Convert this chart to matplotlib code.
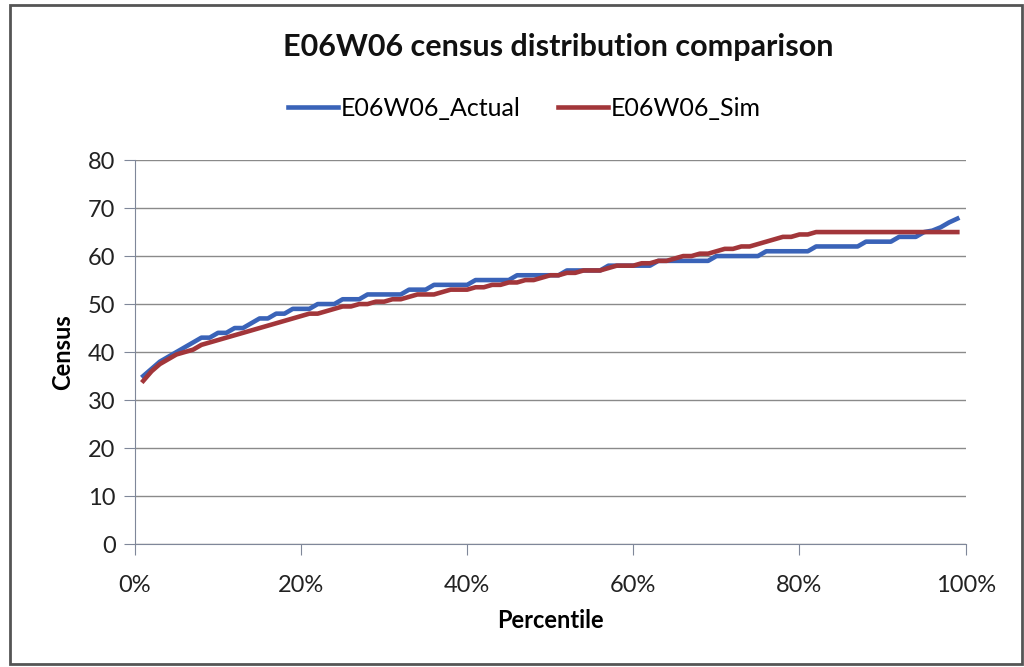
import matplotlib.pyplot as plt
from matplotlib.ticker import PercentFormatter
from matplotlib.patches import Rectangle

plt.rcParams['font.family'] = ['Lato', 'DejaVu Sans']

# percentile (%) and census values
percentile = list(range(1, 100))
actual = [35, 36.5, 38, 39, 40, 41, 42, 43, 43, 44,
          44, 45, 45, 46, 47, 47, 48, 48, 49, 49,
          49, 50, 50, 50, 51, 51, 51, 52, 52, 52,
          52, 52, 53, 53, 53, 54, 54, 54, 54, 54,
          55, 55, 55, 55, 55, 56, 56, 56, 56, 56,
          56, 57, 57, 57, 57, 57, 58, 58, 58, 58,
          58, 58, 59, 59, 59, 59, 59, 59, 59, 60,
          60, 60, 60, 60, 60, 61, 61, 61, 61, 61,
          61, 62, 62, 62, 62, 62, 62, 63, 63, 63,
          63, 64, 64, 64, 65, 65.3, 66, 67, 67.8]
sim = [34, 36, 37.5, 38.5, 39.5, 40, 40.5, 41.5, 42, 42.5,
       43, 43.5, 44, 44.5, 45, 45.5, 46, 46.5, 47, 47.5,
       48, 48, 48.5, 49, 49.5, 49.5, 50, 50, 50.5, 50.5,
       51, 51, 51.5, 52, 52, 52, 52.5, 53, 53, 53,
       53.5, 53.5, 54, 54, 54.5, 54.5, 55, 55, 55.5, 56,
       56, 56.5, 56.5, 57, 57, 57, 57.5, 58, 58, 58,
       58.5, 58.5, 59, 59, 59.5, 60, 60, 60.5, 60.5, 61,
       61.5, 61.5, 62, 62, 62.5, 63, 63.5, 64, 64, 64.5,
       64.5, 65, 65, 65, 65, 65, 65, 65, 65, 65,
       65, 65, 65, 65, 65, 65, 65, 65, 65]

fig = plt.figure(figsize=(10.24, 6.67), dpi=100)
ax = fig.add_axes([0.1318, 0.1844, 0.8112, 0.5756])

ax.plot(percentile, actual, color='#3a63b8', lw=3.3, label='E06W06_Actual', zorder=3)
ax.plot(percentile, sim, color='#a2363a', lw=3.3, label='E06W06_Sim', zorder=3)

ax.set_xlim(0, 100)
ax.set_ylim(0, 80)
ax.set_yticks(range(0, 81, 10))
ax.set_xticks(range(0, 101, 20))
ax.xaxis.set_major_formatter(PercentFormatter(decimals=0))
ax.grid(axis='y', color='#8a8a8a', lw=1)
ax.set_axisbelow(True)
for s in ['top', 'right']:
    ax.spines[s].set_visible(False)
for s in ['left', 'bottom']:
    ax.spines[s].set_color('#7f8799')
ax.tick_params(axis='both', length=8, color='#7f8799', labelsize=17, labelcolor='#222222')
ax.tick_params(axis='x', pad=14)
ax.tick_params(axis='y', pad=6)

ax.set_xlabel('Percentile', fontsize=17, fontweight='bold', labelpad=10)
ax.set_ylabel('Census', fontsize=17, fontweight='bold', labelpad=10)

fig.text(0.545, 0.93, 'E06W06 census distribution comparison', ha='center', va='center',
         fontsize=22, fontweight='bold', color='#111111')
fig.legend(loc='center', bbox_to_anchor=(0.512, 0.838), ncol=2, frameon=False,
           fontsize=18, handlelength=2.0, handletextpad=0.1, columnspacing=1.5)

fig.patches.append(Rectangle((0.01, 0.005), 0.988, 0.988, transform=fig.transFigure,
                             fill=False, edgecolor='#555555', lw=2))

plt.savefig('out.png')
